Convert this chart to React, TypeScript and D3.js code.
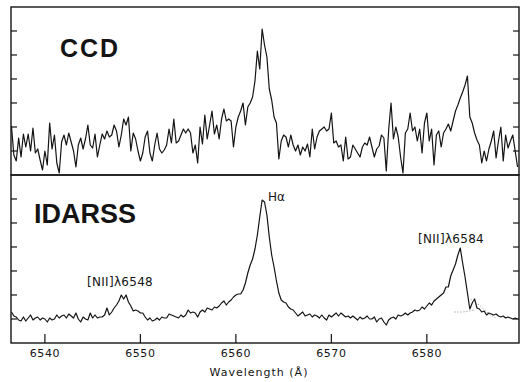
import * as d3 from "d3";

// wavelength grid (Å) shared by both spectra
const gridStart = 6536.5;
const gridStep = 0.25;

// CCD spectrum, arbitrary flux units
const ccdFlux = [
  49, 20, 14, 37, 18, 41, 28, 41, 24, 47,
  22, 26, 15, 5, 24, 10, 52, 26, 40, 12,
  2, 33, 40, 30, 42, 33, 24, 8, 30, 37,
  26, 36, 50, 30, 27, 41, 18, 30, 41, 36,
  44, 38, 40, 50, 44, 28, 40, 56, 50, 58,
  24, 42, 36, 24, 14, 22, 38, 44, 22, 14,
  30, 42, 26, 22, 25, 30, 46, 32, 56, 32,
  34, 40, 46, 42, 46, 42, 22, 30, 12, 48,
  31, 60, 36, 50, 64, 41, 50, 36, 56, 66,
  54, 56, 54, 28, 48, 58, 64, 72, 50, 68,
  72, 78, 94, 124, 106, 146, 130, 118, 86, 75,
  58, 52, 16, 34, 40, 38, 28, 40, 30, 24,
  30, 20, 28, 24, 31, 18, 46, 26, 38, 44,
  46, 48, 44, 46, 62, 32, 34, 28, 30, 14,
  38, 16, 18, 30, 26, 22, 18, 28, 32, 30,
  38, 28, 18, 26, 29, 40, 37, 4, 45, 72,
  36, 48, 38, 18, 2, 42, 46, 62, 44, 48,
  34, 46, 22, 52, 62, 34, 46, 10, 40, 44,
  28, 42, 46, 51, 44, 54, 64, 70, 77, 83,
  90, 99, 58, 52, 42, 35, 30, 12, 24, 14,
  26, 34, 44, 17, 34, 48, 14, 40, 27, 34,
  40, 24, 8,
];

// IDARSS spectrum, same grid
const idarssFlux = [
  31, 27, 26, 23, 22, 26, 22, 25, 28, 23,
  25, 26, 23, 25, 24, 21, 25, 23, 24, 28,
  25, 27, 28, 25, 29, 27, 25, 30, 24, 21,
  26, 24, 23, 30, 25, 28, 25, 26, 26, 28,
  35, 28, 31, 35, 38, 42, 48, 44, 48, 41,
  37, 32, 33, 32, 30, 30, 26, 23, 25, 22,
  23, 25, 23, 26, 25, 25, 29, 28, 27, 26,
  25, 28, 26, 28, 33, 30, 31, 30, 26, 31,
  33, 31, 35, 34, 33, 36, 35, 37, 40, 42,
  38, 41, 43, 46, 48, 49, 49, 53, 60, 70,
  78, 84, 94, 108, 126, 143, 141, 128, 106, 88,
  76, 62, 50, 43, 41, 40, 36, 34, 33, 30,
  27, 29, 31, 27, 28, 29, 26, 28, 27, 25,
  28, 25, 23, 28, 26, 28, 30, 27, 30, 28,
  26, 27, 25, 27, 25, 23, 26, 24, 25, 27,
  24, 24, 26, 21, 24, 25, 21, 18, 23, 25,
  26, 24, 28, 27, 28, 30, 28, 30, 31, 33,
  32, 33, 36, 34, 37, 40, 38, 42, 44, 46,
  48, 50, 56, 56, 67, 73, 79, 88, 95, 80,
  66, 50, 34, 40, 44, 35, 34, 31, 32, 28,
  30, 29, 28, 29, 27, 26, 27, 25, 26, 25,
  24, 25, 24,
];

// faint dotted fit traces under [NII] 6584
const fitA: [number, number][] = [[6582.9, 31], [6583.8, 31], [6585.0, 33]];
const fitB: [number, number][] = [[6584.6, 44], [6585.5, 38], [6586.4, 30], [6587.2, 25]];

const xTicks = [6540, 6550, 6560, 6570, 6580];
const yTicks = [24, 48, 72, 96, 120, 144];
const panelNames = ["CCD", "IDARSS"];

const W = 522;
const H = 382;
const L = 11;
const R = 519;
const ink = "#141414";

export default function App() {
  const x = d3.scaleLinear().domain([6536.45, 6589.65]).range([L, R]);
  const yTop = d3.scaleLinear().domain([0, 168]).range([175, 7]);
  const yBot = d3.scaleLinear().domain([0, 168]).range([343, 175]);
  const wl = ccdFlux.map((_, i) => gridStart + i * gridStep);

  const ccdLine = d3.line<number>().x((_, i) => x(wl[i])).y((d) => yTop(d));
  const idLine = d3.line<number>().x((_, i) => x(wl[i])).y((d) => yBot(d));
  const fitLine = d3.line<[number, number]>().x((d) => x(d[0])).y((d) => yBot(d[1]));

  const font = "'DejaVu Sans', sans-serif";

  return (
    <svg
      width={W}
      height={H}
      style={{ position: "absolute", left: 0, top: 0, background: "#fff" }}
    >
      {/* spectra */}
      <path d={ccdLine(ccdFlux) ?? ""} fill="none" stroke={ink} strokeWidth={1.2} strokeLinejoin="round" />
      <path d={idLine(idarssFlux) ?? ""} fill="none" stroke={ink} strokeWidth={1.2} strokeLinejoin="round" />
      <path d={fitLine(fitA) ?? ""} fill="none" stroke="#888" strokeWidth={1} strokeDasharray="1,2" />
      <path d={fitLine(fitB) ?? ""} fill="none" stroke="#888" strokeWidth={1} strokeDasharray="1,2" />

      {/* frames */}
      {[yTop, yBot].map((y, k) => (
        <g key={k}>
          <rect
            x={L}
            y={y(168)}
            width={R - L}
            height={y(0) - y(168)}
            fill="none"
            stroke={ink}
            strokeWidth={1.4}
          />
          {yTicks.map((t) => (
            <g key={t}>
              <line x1={L} x2={L + 6} y1={y(t)} y2={y(t)} stroke={ink} strokeWidth={1.2} />
              <line x1={R - 6} x2={R} y1={y(t)} y2={y(t)} stroke={ink} strokeWidth={1.2} />
            </g>
          ))}
        </g>
      ))}

      {/* wavelength axis */}
      {xTicks.map((t) => (
        <g key={t}>
          <line x1={x(t)} x2={x(t)} y1={343} y2={334} stroke={ink} strokeWidth={1.2} />
          <text
            x={x(t)}
            y={357}
            textAnchor="middle"
            fontFamily={font}
            fontSize={11}
            letterSpacing={0.6}
            fill={ink}
          >
            {t}
          </text>
        </g>
      ))}
      <text x={259} y={376} textAnchor="middle" fontFamily={font} fontSize={11} letterSpacing={1} fill={ink}>
        Wavelength (Å)
      </text>

      {/* panel names */}
      <text x={60} y={57} fontFamily="'Liberation Sans', Arial, sans-serif" fontWeight="bold" fontSize={25} letterSpacing={2} fill={ink}>
        {panelNames[0]}
      </text>
      <text x={34} y={223} fontFamily="'Liberation Sans', Arial, sans-serif" fontWeight="bold" fontSize={27} fill={ink}>
        {panelNames[1]}
      </text>

      {/* line labels */}
      <text x={268} y={201} fontFamily={font} fontSize={12} fill={ink}>
        Hα
      </text>
      <text x={87} y={286} fontFamily={font} fontSize={12} letterSpacing={0.3} fill={ink}>
        [NII]λ6548
      </text>
      <text x={418} y={243} fontFamily={font} fontSize={12} letterSpacing={0.3} fill={ink}>
        [NII]λ6584
      </text>
    </svg>
  );
}
